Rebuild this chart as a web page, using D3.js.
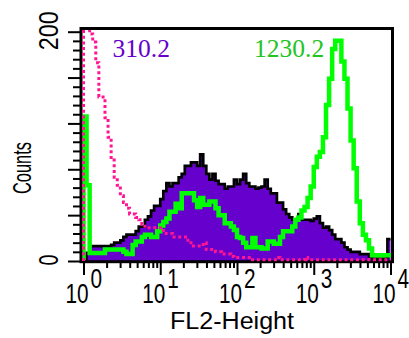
<!DOCTYPE html>
<html><head><meta charset="utf-8">
<script src="https://cdn.jsdelivr.net/npm/d3@7"></script>
<style>html,body{margin:0;padding:0;background:#fff;}svg{display:block;}</style>
</head><body>
<svg id="chart" width="409" height="338"></svg>
<script>
// 100 channels over 4 decades (25 per decade)
const binsPerDecade = 25;
const purpleCounts = [
  0, 7, 13, 13, 13, 13, 13, 13, 13, 14,
  16, 16, 18, 21, 23, 23, 23, 26, 30, 30,
  36, 39, 44, 48, 48, 54, 61, 68, 65, 68,
  68, 73, 76, 83, 83, 86, 86, 83, 93, 83,
  76, 71, 76, 70, 67, 67, 63, 65, 65, 71,
  67, 71, 76, 68, 65, 65, 63, 64, 65, 71,
  63, 59, 59, 51, 51, 45, 41, 38, 36, 36,
  41, 36, 36, 36, 35, 37, 39, 33, 29, 30,
  27, 23, 19, 19, 16, 12, 10, 8, 8, 8,
  6, 6, 6, 4, 2, 2, 2, 2, 2, 19
];
const greenCounts = [
  126, 66, 7, 7, 7, 7, 7, 10, 10, 10,
  10, 10, 10, 8, 6, 6, 14, 17, 17, 21,
  23, 23, 21, 21, 26, 31, 34, 37, 43, 43,
  50, 46, 59, 59, 59, 59, 53, 47, 55, 49,
  49, 52, 52, 46, 40, 40, 33, 33, 30, 27,
  21, 20, 16, 12, 12, 20, 12, 12, 11, 11,
  17, 17, 15, 15, 21, 26, 26, 26, 30, 36,
  38, 44, 47, 55, 65, 82, 91, 95, 108, 136,
  159, 185, 192, 192, 174, 159, 133, 105, 81, 52,
  33, 23, 18, 11, 5, 5, 5, 5, 5, 5
];
const pinkCounts = [
  260, 210, 198, 191, 173, 143, 143, 125, 108, 88,
  73, 66, 57, 51, 46, 41, 41, 38, 36, 32,
  29, 29, 29, 29, 29, 29, 24, 24, 24, 21,
  21, 21, 21, 21, 16, 13, 13, 13, 13, 16,
  10, 10, 10, 8, 8, 6, 6, 6, 4, 3,
  3, 3, 3, 3, 1, 1, 1, 1, 1, 1,
  1, 1, 1, 3, 1, 1, 1, 1, 1, 1,
  1, 1, 3, 1, 1, 1, 1, 1, 1, 1,
  1, 1, 1, 1, 1, 1, 1, 1, 1, 1,
  1, 1, 1, 1, 1, 1, 1, 1, 1, 1
];
const xTickExponents = [0, 1, 2, 3, 4];
const xMinorMultipliers = [2, 3, 4, 5, 6, 7, 8, 9];
const yMajorTicks = [0, 40, 80, 120, 160, 200];
const yMinorTicks = d3.range(0, 201, 8);
const yTickLabels = [0, 200];
const purpleLabel = "310.2";
const greenLabel = "1230.2";
const xAxisTitle = "FL2-Height";
const yAxisTitle = "Counts";

const svg = d3.select("#chart");
const x = d3.scaleLog().domain([1, 1e4]).range([83.5, 390.5]);
const y = d3.scaleLinear().domain([0, 200]).range([261, 31.7]);
const edge = i => Math.pow(10, i / binsPerDecade);

function stepPoints(counts, fromBase) {
  const pts = counts.map((c, i) => [edge(i), c]);
  pts.push([edge(counts.length), counts[counts.length - 1]]);
  if (fromBase) pts.unshift([edge(0), 0]);
  return pts;
}

const defs = svg.append("defs");
defs.append("clipPath").attr("id", "plotClip").append("rect")
  .attr("x", 82.5).attr("y", 30).attr("width", 308.5).attr("height", 231.5);
defs.append("clipPath").attr("id", "pinkClip").append("rect")
  .attr("x", 81.5).attr("y", 30).attr("width", 310).attr("height", 233);

const line = d3.line().curve(d3.curveStepAfter).x(d => x(d[0])).y(d => y(d[1]));
const area = d3.area().curve(d3.curveStepAfter).x(d => x(d[0])).y0(y(0)).y1(d => y(d[1]));

const plot = svg.append("g").attr("clip-path", "url(#plotClip)");
plot.append("path").datum(stepPoints(purpleCounts, false))
  .attr("d", area).attr("fill", "#6600cc").attr("stroke", "none");
plot.append("path").datum(stepPoints(purpleCounts, false))
  .attr("d", line).attr("fill", "none").attr("stroke", "#000").attr("stroke-width", 2.7);
plot.append("path").datum(stepPoints(greenCounts, true))
  .attr("d", line).attr("fill", "none").attr("stroke", "#00ff00").attr("stroke-width", 4.5)
  .attr("stroke-linejoin", "miter").attr("stroke-linecap", "square");

// frame
svg.append("rect").attr("x", 81).attr("y", 28.5).attr("width", 311.5).attr("height", 233.2)
  .attr("fill", "none").attr("stroke", "#000").attr("stroke-width", 3);

// pink dotted on top
svg.append("g").attr("clip-path", "url(#pinkClip)")
  .append("path").datum(stepPoints(pinkCounts, true))
  .attr("d", line).attr("fill", "none").attr("stroke", "#ff1493").attr("stroke-width", 3)
  .attr("stroke-dasharray", "3,2.7");

// axes ticks
function styleAxis(g) {
  g.select(".domain").remove();
  g.selectAll(".tick line").attr("stroke", "#000").attr("stroke-width", 2);
  g.selectAll(".tick text").remove();
}
svg.append("g").attr("transform", "translate(0,263)")
  .call(d3.axisBottom(x).tickValues(xTickExponents.map(e => Math.pow(10, e))).tickSize(12).tickFormat(""))
  .call(styleAxis);
const minorX = [];
xTickExponents.slice(0, -1).forEach(e => xMinorMultipliers.forEach(m => minorX.push(m * Math.pow(10, e))));
svg.append("g").attr("transform", "translate(0,263)")
  .call(d3.axisBottom(x).tickValues(minorX).tickSize(5).tickFormat(""))
  .call(styleAxis);
svg.append("g").attr("transform", "translate(80,0)")
  .call(d3.axisLeft(y).tickValues(yMajorTicks).tickSize(12).tickFormat(""))
  .call(styleAxis);
svg.append("g").attr("transform", "translate(80,0)")
  .call(d3.axisLeft(y).tickValues(yMinorTicks.filter(v => !yMajorTicks.includes(v))).tickSize(7).tickFormat(""))
  .call(styleAxis);

const sans = "'Liberation Sans', Arial, Helvetica, sans-serif";
const serif = "'Liberation Serif', 'Times New Roman', Times, serif";

// x tick labels 10^n
xTickExponents.forEach(e => {
  const tx = x(Math.pow(10, e));
  svg.append("text").text("10")
    .attr("transform", `translate(${tx + 5},302.5) scale(0.77,1)`)
    .attr("text-anchor", "end").attr("font-family", sans).attr("font-size", 27).attr("fill", "#000");
  svg.append("text").text(String(e))
    .attr("transform", `translate(${tx + 7},288) scale(0.77,1)`)
    .attr("text-anchor", "start").attr("font-family", sans).attr("font-size", 27).attr("fill", "#000");
});

// y tick labels (rotated)
yTickLabels.forEach(v => {
  const s = String(v);
  svg.append("text").text(s)
    .attr("transform", `translate(58,${y(v) - 1}) rotate(-90)`)
    .attr("text-anchor", "middle").attr("font-family", sans).attr("font-size", 27)
    .attr("textLength", s.length === 1 ? 11 : 39).attr("lengthAdjust", "spacingAndGlyphs")
    .attr("fill", "#000");
});

// axis titles
svg.append("text").text(xAxisTitle)
  .attr("x", 232).attr("y", 329).attr("text-anchor", "middle")
  .attr("font-family", sans).attr("font-size", 23)
  .attr("textLength", 124).attr("lengthAdjust", "spacingAndGlyphs").attr("fill", "#000");
svg.append("text").text(yAxisTitle)
  .attr("transform", "translate(31,168) rotate(-90)").attr("text-anchor", "middle")
  .attr("font-family", sans).attr("font-size", 26)
  .attr("textLength", 52).attr("lengthAdjust", "spacingAndGlyphs").attr("fill", "#000");

// statistic labels
svg.append("text").text(purpleLabel)
  .attr("x", 112.5).attr("y", 57.3).attr("font-family", serif).attr("font-size", 25.5)
  .attr("fill", "#6600cc");
svg.append("text").text(greenLabel)
  .attr("x", 254).attr("y", 57.3).attr("font-family", serif).attr("font-size", 25.5)
  .attr("fill", "#22c422");
</script>
</body></html>
